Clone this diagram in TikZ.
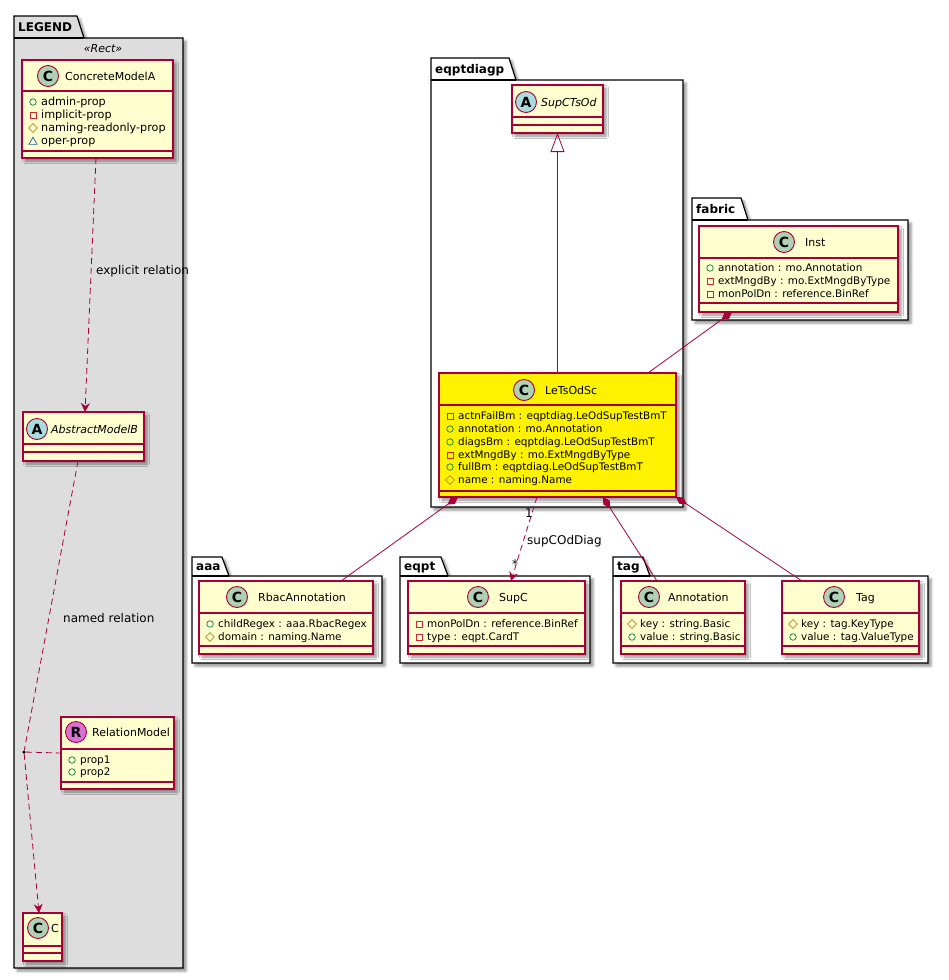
\documentclass[tikz,border=0pt]{standalone}
\usepackage{fontspec}
\setmainfont{DejaVu Sans}
\usetikzlibrary{arrows.meta,shapes.geometric,shadows.blur}

\definecolor{umlred}{HTML}{A80036}
\definecolor{umlfill}{HTML}{FEFECE}
\definecolor{umlgreen}{HTML}{ADD1B2}
\definecolor{umlblue}{HTML}{A9DCDF}
\definecolor{umlorchid}{HTML}{DA70D6}
\definecolor{legendgray}{HTML}{DDDDDD}
\definecolor{pubgreen}{HTML}{038048}
\definecolor{privred}{HTML}{C82930}
\definecolor{protgold}{HTML}{B38D22}
\definecolor{pkgblue}{HTML}{1963A0}

% name, x1, y1, x2, y2, header line, body line, fill
\newcommand\umlclass[8]{%
  \node[classbox,fill=#8,minimum width={(#4-#2)*1pt},minimum height={(#5-#3)*1pt}]
    (#1) at ({(#2+#4)/2},{(#3+#5)/2}) {};
  \draw[divider] (#2,#6) -- (#4,#6) (#2,#7) -- (#4,#7);
}
% name, x, y, letter, fill
\newcommand\classicon[5]{\node[classicon,fill=#5] (#1) at (#2,#3) {#4};}
% name, x of box, y, visibility, text
\newcommand\member[5]{%
  \node[#4] (#1-v) at (#2+11,#3) {};
  \node[membertext] (#1) at (#2+19,#3+3.5) {#5};
}
% name, x1, tab top, tab right, body top, x2, y2, label, fill
\newcommand\umlpackage[9]{%
  \filldraw[pkgshape,fill=#9] (#2,#5) -- (#2,#3) -- (#4,#3) -- (#4+7,#5)
    -- (#6,#5) -- (#6,#7) -- (#2,#7) -- cycle;
  \draw[pkgline] (#2,#5) -- (#4+7,#5);
  \node[pkgtitle] (#1) at (#2+4,{(#3+#5)/2+4.4}) {#8};
}

\begin{document}
\begin{tikzpicture}[
  x=1pt,
  y=-1pt,
  classbox/.style={
    draw=umlred,
    line width=1.2pt,
    inner sep=0pt,
    outer sep=0pt,
    blur shadow={shadow xshift=3pt,shadow yshift=-3pt,shadow blur radius=2.5pt,shadow opacity=45}
  },
  divider/.style={draw=umlred,line width=1.2pt},
  classicon/.style={
    circle,
    draw=umlred,
    line width=.9pt,
    minimum size=21pt,
    inner sep=0pt,
    font=\bfseries\fontsize{14}{14}\selectfont
  },
  classname/.style={anchor=base west,inner sep=0pt,font=\fontsize{11}{13}\selectfont},
  abstractname/.style={classname,font=\itshape\fontsize{11}{13}\selectfont},
  membertext/.style={anchor=base west,inner sep=0pt,font=\fontsize{10.4}{12}\selectfont},
  vispub/.style={circle,draw=pubgreen,line width=.7pt,minimum size=6.5pt,inner sep=0pt},
  vispriv/.style={rectangle,draw=privred,line width=.7pt,minimum size=6pt,inner sep=0pt},
  visprot/.style={diamond,draw=protgold,line width=.7pt,minimum size=9pt,inner sep=0pt},
  vispkg/.style={regular polygon,regular polygon sides=3,draw=pkgblue,line width=.7pt,
    minimum size=9.5pt,inner sep=0pt,yshift=-1pt},
  pkgshape/.style={
    draw=black,
    line width=1.2pt,
    blur shadow={shadow xshift=3pt,shadow yshift=-3pt,shadow blur radius=2.5pt,shadow opacity=45}
  },
  pkgline/.style={draw=black,line width=1.2pt},
  pkgtitle/.style={anchor=base west,inner sep=0pt,font=\bfseries\fontsize{12}{14}\selectfont},
  assocline/.style={draw=umlred,line width=.8pt},
  composition/.style={assocline,-{Diamond[length=13pt,width=7.5pt]}},
  inheritance/.style={assocline,-{Triangle[open,length=19pt,width=14pt]}},
  depline/.style={assocline,dash pattern=on 6pt off 4pt},
  dependency/.style={depline,-{Stealth[length=9pt,width=9pt,inset=3pt]}},
  edgelabel/.style={inner sep=0pt,font=\fontsize{12}{14}\selectfont},
]
\useasboundingbox (0,0) rectangle (948,980);

% packages
\umlpackage{pkglegend}{14}{16}{77}{38}{183}{968}{LEGEND}{legendgray}
\umlpackage{pkgeqptdiagp}{431}{58}{509}{80}{683}{507}{eqptdiagp}{white}
\umlpackage{pkgfabric}{692}{198}{741}{220}{908}{320}{fabric}{white}
\umlpackage{pkgaaa}{192}{557}{222}{576}{382}{663}{aaa}{white}
\umlpackage{pkgeqpt}{400}{557}{441}{576}{590}{663}{eqpt}{white}
\umlpackage{pkgtag}{613}{557}{643}{576}{928}{663}{tag}{white}
\node[font=\itshape\fontsize{11}{13}\selectfont] (stereo) at (103,49) {«Rect»};

% legend classes
\umlclass{concA}{22}{60}{173}{158}{91}{151}{umlfill}
\classicon{concA-c}{48}{76}{C}{umlgreen}
\node[classname] (concA-n) at (65,80) {ConcreteModelA};
\begin{scope}[membertext/.append style={font=\fontsize{11.2}{13}\selectfont}]
\member{concA-m1}{22}{102}{vispub}{admin-prop}
\member{concA-m2}{22}{115}{vispriv}{implicit-prop}
\member{concA-m3}{22}{128}{visprot}{naming-readonly-prop}
\member{concA-m4}{22}{141}{vispkg}{oper-prop}
\end{scope}

\umlclass{absB}{23}{412}{144}{461}{444}{452}{umlfill}
\classicon{absB-c}{37}{429}{A}{umlblue}
\node[abstractname] (absB-n) at (51,433) {AbstractModelB};

\umlclass{relm}{61}{717}{174}{789}{749}{782}{umlfill}
\classicon{relm-c}{76}{732}{R}{umlorchid}
\node[classname] (relm-n) at (92,736) {RelationModel};
\member{relm-m1}{61}{760}{vispub}{prop1}
\member{relm-m2}{61}{772}{vispub}{prop2}

\umlclass{cc}{23}{913}{62}{961}{946}{953}{umlfill}
\classicon{cc-c}{38}{928}{C}{umlgreen}
\node[classname] (cc-n) at (51,932) {C};

% eqptdiagp
\umlclass{supcts}{512}{85}{603}{133}{117}{125}{umlfill}
\classicon{supcts-c}{526}{102}{A}{umlblue}
\node[abstractname] (supcts-n) at (541,106) {SupCTsOd};

\umlclass{lets}{439}{373}{676}{497}{405}{491}{yellow}
\classicon{lets-c}{524}{390}{C}{umlgreen}
\node[classname] (lets-n) at (545,394) {LeTsOdSc};
\member{lets-m1}{439}{416}{vispriv}{actnFailBm : eqptdiag.LeOdSupTestBmT}
\member{lets-m2}{439}{429}{vispub}{annotation : mo.Annotation}
\member{lets-m3}{439}{442}{vispub}{diagsBm : eqptdiag.LeOdSupTestBmT}
\member{lets-m4}{439}{455}{vispriv}{extMngdBy : mo.ExtMngdByType}
\member{lets-m5}{439}{467}{vispub}{fullBm : eqptdiag.LeOdSupTestBmT}
\member{lets-m6}{439}{480}{visprot}{name : naming.Name}

% fabric
\umlclass{inst}{699}{226}{898}{312}{258}{303}{umlfill}
\classicon{inst-c}{784}{242}{C}{umlgreen}
\node[classname] (inst-n) at (805,246) {Inst};
\member{inst-m1}{699}{268}{vispub}{annotation : mo.Annotation}
\member{inst-m2}{699}{281}{vispriv}{extMngdBy : mo.ExtMngdByType}
\member{inst-m3}{699}{294}{vispriv}{monPolDn : reference.BinRef}

% aaa
\umlclass{rbac}{199}{581}{373}{654}{613}{646}{umlfill}
\classicon{rbac-c}{237}{597}{C}{umlgreen}
\node[classname] (rbac-n) at (258,601) {RbacAnnotation};
\member{rbac-m1}{199}{624}{vispub}{childRegex : aaa.RbacRegex}
\member{rbac-m2}{199}{637}{visprot}{domain : naming.Name}

% eqpt
\umlclass{supc}{408}{581}{585}{654}{613}{646}{umlfill}
\classicon{supc-c}{478}{597}{C}{umlgreen}
\node[classname] (supc-n) at (499,601) {SupC};
\member{supc-m1}{408}{624}{vispriv}{monPolDn : reference.BinRef}
\member{supc-m2}{408}{637}{vispriv}{type : eqpt.CardT}

% tag
\umlclass{annot}{621}{581}{745}{654}{613}{646}{umlfill}
\classicon{annot-c}{649}{597}{C}{umlgreen}
\node[classname] (annot-n) at (668,601) {Annotation};
\member{annot-m1}{621}{624}{visprot}{key : string.Basic}
\member{annot-m2}{621}{637}{vispub}{value : string.Basic}

\umlclass{tag}{782}{581}{919}{654}{613}{646}{umlfill}
\classicon{tag-c}{834}{597}{C}{umlgreen}
\node[classname] (tag-n) at (856,601) {Tag};
\member{tag-m1}{782}{624}{visprot}{key : tag.KeyType}
\member{tag-m2}{782}{637}{vispub}{value : tag.ValueType}

% legend relations
\node[circle,fill=black,inner sep=0pt,minimum size=3.5pt] (assocpt) at (24,752) {};
\draw[dependency] ([xshift=-1.5pt]concA.south) -- ([xshift=1.5pt]absB.north);
\node[edgelabel,anchor=base west] (explbl) at (96,274) {explicit relation};
\draw[depline] ([xshift=-5.5pt]absB.south) -- (assocpt);
\node[edgelabel,anchor=base west] (namedlbl) at (63,622) {named relation};
\draw[dependency] (assocpt) -- ([xshift=-3.5pt]cc.north);
\draw[depline] (assocpt) -- (relm.west);

% relations
\draw[inheritance] (lets.north) -- (supcts.south);
\draw[composition] ([xshift=90.5pt]lets.north) -- ([xshift=-66.5pt]inst.south);
\draw[composition] ([xshift=55pt]rbac.north) -- ([xshift=-99.5pt]lets.south);
\draw[dependency] ([xshift=-20.5pt]lets.south) -- ([xshift=14.5pt]supc.north);
\node[edgelabel] (multone) at (529,513) {1};
\node[edgelabel] (multmany) at (515,564) {*};
\node[edgelabel,anchor=base west] (supclbl) at (527,544) {supCOdDiag};
\draw[composition] ([xshift=-26pt]annot.north) -- ([xshift=45.5pt]lets.south);
\draw[composition] ([xshift=-48.5pt]tag.north) -- (lets.south east);
\end{tikzpicture}
\end{document}
